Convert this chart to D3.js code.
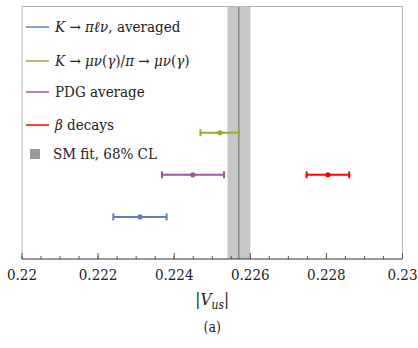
<!DOCTYPE html>
<html><head><meta charset="utf-8">
<script src="https://cdn.jsdelivr.net/npm/d3@7"></script>
<style>body{margin:0;background:#fff}svg{display:block}</style>
</head><body>
<script>
const seriesNames = ["K → πℓν, averaged","K → μν(γ)/π → μν(γ)","PDG average","β decays"];
const seriesColors = ["#5E81B5","#8FB032","#A0559F","#FF0000"];
const centers = [0.22310, 0.22520, 0.22449, 0.22804];
const lows    = [0.22240, 0.22469, 0.22368, 0.22748];
const highs   = [0.22380, 0.22570, 0.22531, 0.22860];
const rows    = [1, 3, 2, 2];
const smFit = {center:0.22570, low:0.22540, high:0.22600};
const xTicks = [0.22,0.222,0.224,0.226,0.228,0.23];
const xTickLabels = ["0.22","0.222","0.224","0.226","0.228","0.23"];

const FONT = "'DejaVu Serif Condensed', 'DejaVu Serif', serif";
const W=418,H=348;
const svg=d3.select("body").append("svg").attr("width",W).attr("height",H).attr("font-family",FONT);
const x=d3.scaleLinear().domain([0.22,0.23]).range([22,402.5]);
const y=d3.scaleLinear().domain([0,6]).range([259,6.5]);

// SM band
svg.append("rect").attr("x",x(smFit.low)).attr("y",y(6)).attr("width",x(smFit.high)-x(smFit.low)).attr("height",y(0)-y(6)).attr("fill","#c6c6c6");
svg.append("line").attr("x1",x(smFit.center)).attr("x2",x(smFit.center)).attr("y1",y(6)).attr("y2",y(0)).attr("stroke","#6b6b6b").attr("stroke-width",1);

// frame
svg.append("path").attr("d",`M${x(0.22)},${y(0)}V${y(6)}H${x(0.23)}V${y(0)}`).attr("fill","none").attr("stroke","#b4b4b4").attr("stroke-width",1);

// axis
const minor=d3.range(0.22,0.23001,0.0005);
const axis=svg.append("g").attr("transform",`translate(0,${y(0)})`);
axis.append("line").attr("x1",x(0.22)).attr("x2",x(0.23)).attr("stroke","#333").attr("stroke-width",1);
axis.selectAll("line.mn").data(minor).enter().append("line").attr("x1",d=>x(d)).attr("x2",d=>x(d)).attr("y1",0).attr("y2",-3).attr("stroke","#555");
axis.selectAll("line.mj").data(xTicks).enter().append("line").attr("x1",d=>x(d)).attr("x2",d=>x(d)).attr("y1",0).attr("y2",-6).attr("stroke","#555");
axis.selectAll("text").data(xTicks).enter().append("text").attr("x",d=>x(d)).attr("y",21).attr("text-anchor","middle").attr("font-size",15).attr("fill","#222").text((d,i)=>xTickLabels[i]);

// error bars
const g=svg.append("g");
centers.forEach((c,i)=>{
  const yy=y(rows[i]), col=seriesColors[i];
  g.append("line").attr("x1",x(lows[i])).attr("x2",x(highs[i])).attr("y1",yy).attr("y2",yy).attr("stroke",col).attr("stroke-width",2);
  [lows[i],highs[i]].forEach(v=>g.append("line").attr("x1",x(v)).attr("x2",x(v)).attr("y1",yy-3.5).attr("y2",yy+3.5).attr("stroke",col).attr("stroke-width",2));
  g.append("circle").attr("cx",x(c)).attr("cy",yy).attr("r",2.6).attr("fill",col);
});

// legend
const leg=svg.append("g");
const legY=[27,61,92,125];
seriesNames.forEach((n,i)=>{
  leg.append("line").attr("x1",26).attr("x2",49).attr("y1",legY[i]).attr("y2",legY[i]).attr("stroke",seriesColors[i]).attr("stroke-width",1.5);
});
function txt(yv){return leg.append("text").attr("x",55).attr("y",yv).attr("font-size",15).attr("fill","#222");}
const t0=txt(legY[0]+5);
t0.append("tspan").attr("font-style","italic").text("K");
t0.append("tspan").text(" → ");
t0.append("tspan").attr("font-style","italic").text("πℓν");
t0.append("tspan").text(",  averaged");
const t1=txt(legY[1]+5);
[["K",1],[" → ",0],["μν",1],["(",0],["γ",1],[")/",0],["π",1],[" → ",0],["μν",1],["(",0],["γ",1],[")",0]].forEach(([s,it])=>{
  const ts=t1.append("tspan").text(s); if(it) ts.attr("font-style","italic");
});
txt(legY[2]+5).text("PDG average");
const t3=txt(legY[3]+5);
t3.append("tspan").attr("font-style","italic").text("β");
t3.append("tspan").text(" decays");
leg.append("rect").attr("x",30).attr("y",149).attr("width",10).attr("height",10).attr("fill","#9a9a9a");
leg.append("text").attr("x",53).attr("y",159).attr("font-size",15).attr("fill","#222").text("SM fit, 68% CL");

// axis title
const at=svg.append("text").attr("x",x(0.225)).attr("y",305).attr("text-anchor","middle").attr("font-size",17).attr("fill","#222");
at.append("tspan").text("|");
at.append("tspan").attr("font-style","italic").text("V");
at.append("tspan").attr("font-style","italic").attr("font-size",12).attr("dy",4).text("us");
at.append("tspan").attr("dy",-4).text("|");
svg.append("text").attr("x",x(0.225)).attr("y",332).attr("text-anchor","middle").attr("font-size",14).attr("fill","#222").text("(a)");
</script>
</body></html>
